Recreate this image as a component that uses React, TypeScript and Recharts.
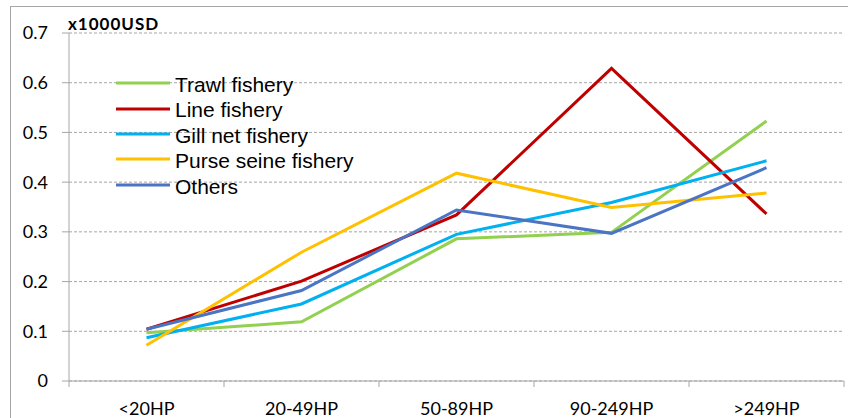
import { LineChart, Line, XAxis, YAxis, CartesianGrid, Legend } from 'recharts';

const categories = ['<20HP', '20-49HP', '50-89HP', '90-249HP', '>249HP'];
const trawl = [0.097, 0.119, 0.286, 0.299, 0.523];
const lineFishery = [0.104, 0.201, 0.334, 0.629, 0.336];
const gillNet = [0.087, 0.155, 0.295, 0.359, 0.443];
const purseSeine = [0.072, 0.259, 0.418, 0.349, 0.378];
const others = [0.104, 0.182, 0.344, 0.297, 0.429];
const yTicks = [0, 0.1, 0.2, 0.3, 0.4, 0.5, 0.6, 0.7];

const series = [
  { key: 'trawl', name: 'Trawl fishery', color: '#92D050', values: trawl },
  { key: 'line', name: 'Line fishery', color: '#C00000', values: lineFishery },
  { key: 'gill', name: 'Gill net fishery', color: '#00B0F0', values: gillNet },
  { key: 'purse', name: 'Purse seine fishery', color: '#FFC000', values: purseSeine },
  { key: 'others', name: 'Others', color: '#4A74C4', values: others },
];

// x sits in the middle of each category slot, slot edges get tick marks
const data = categories.map((c, i) => {
  const row: Record<string, any> = { x: i + 0.5, name: c };
  series.forEach(s => { row[s.key] = s.values[i]; });
  return row;
});
const xTicks = categories.flatMap((_, i) => [i, i + 0.5]).concat(categories.length);

const GRAY = '#A6A6A6';

function XTick({ x, y, payload }: any) {
  const v = payload.value;
  if (Number.isInteger(v)) {
    return <line x1={x} x2={x} y1={y} y2={y + 6} stroke={GRAY} />;
  }
  return (
    <text x={x} y={y + 34} textAnchor="middle" fontFamily="Lato" fontSize={18} fill="#000">
      {categories[Math.floor(v)]}
    </text>
  );
}

// keep the legend in series order (recharts sorts its payload by name)
function LegendBox() {
  return (
    <div style={{ fontFamily: '"Liberation Sans", Arial, sans-serif', fontSize: 21, color: '#000' }}>
      {series.map(s => (
        <div key={s.key} style={{ display: 'flex', alignItems: 'center', height: 25.4, lineHeight: '25.4px' }}>
          <svg width={59} height={25} style={{ display: 'block' }}>
            <line x1={0} x2={54} y1={11} y2={11} stroke={s.color} strokeWidth={3} />
          </svg>
          <span style={{ whiteSpace: 'nowrap' }}>{s.name}</span>
        </div>
      ))}
    </div>
  );
}

export default function App() {
  return (
    <div style={{ position: 'absolute', left: 0, top: 0, width: 848, height: 418, overflow: 'hidden', background: '#fff' }}>
      <div style={{ position: 'absolute', left: 10, top: 6, width: 860, height: 440, border: `1px solid ${GRAY}` }} />
      <div
        style={{
          position: 'absolute', left: 68, top: 13, fontFamily: 'Lato', fontWeight: 'bold',
          fontSize: 17, letterSpacing: 1, color: '#000',
        }}
      >
        x1000USD
      </div>
      <LineChart width={848} height={418} data={data} margin={{ top: 33, right: 4, left: 0, bottom: 0 }}>
        <CartesianGrid horizontal vertical={false} stroke={GRAY} strokeDasharray="3 2" />
        <XAxis
          dataKey="x"
          type="number"
          domain={[0, categories.length]}
          ticks={xTicks}
          interval={0}
          height={37}
          tickLine={false}
          tickSize={0}
          tickMargin={0}
          axisLine={{ stroke: GRAY }}
          tick={<XTick />}
        />
        <YAxis
          width={69}
          domain={[0, 0.7]}
          ticks={yTicks}
          interval={0}
          tickSize={7}
          tickMargin={14}
          tickLine={{ stroke: GRAY }}
          axisLine={{ stroke: GRAY }}
          tick={{ fontFamily: 'Lato', fontSize: 18, fill: '#000' }}
          tickFormatter={(v: number) => (v === 0 ? '0' : v.toFixed(1))}
        />
        <Legend
          layout="vertical"
          align="center"
          verticalAlign="middle"
          content={<LegendBox />}
          wrapperStyle={{ position: 'absolute', left: 116, top: 72, width: 'auto' }}
        />
        {series.map(s => (
          <Line
            key={s.key}
            dataKey={s.key}
            name={s.name}
            stroke={s.color}
            strokeWidth={3}
            dot={false}
            activeDot={false}
            isAnimationActive={false}
          />
        ))}
      </LineChart>
    </div>
  );
}
